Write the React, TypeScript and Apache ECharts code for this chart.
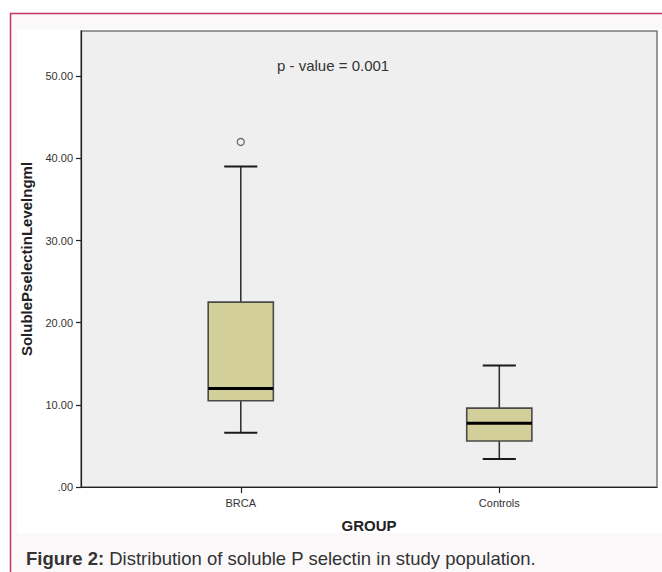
import React, { useEffect, useRef } from "react";
import * as echarts from "echarts";

const categories = ["BRCA", "Controls"];
const positions = [1, 2];
const whiskerLow = [6.6, 3.4];
const quartile1 = [10.5, 5.6];
const medians = [12.0, 7.75];
const quartile3 = [22.5, 9.6];
const whiskerHigh = [39.0, 14.8];
const outlierGroup = ["BRCA"];
const outlierValue = [42.0];
const yMin = 0;
const yMax = 55.5;
const yInterval = 10;

export default function App() {
  const ref = useRef<HTMLDivElement>(null);
  useEffect(() => {
    if (!ref.current) return;
    const chart = echarts.init(ref.current, null, { renderer: "svg" });
    const boxData = categories.map((_, i) => [
      positions[i],
      whiskerLow[i],
      quartile1[i],
      medians[i],
      quartile3[i],
      whiskerHigh[i],
    ]);
    const outlierData = outlierGroup.map((g, i) => [
      positions[categories.indexOf(g)],
      outlierValue[i],
    ]);
    const option: any = {
      animation: false,
      graphic: [
        {
          type: "rect",
          z: -10,
          shape: { x: 0, y: 0, width: 662, height: 572 },
          style: { fill: "#ffffff" },
          silent: true,
        },
        {
          type: "rect",
          z: -9,
          shape: { x: 10, y: 13, width: 652, height: 559 },
          style: { fill: "#fbf8f9" },
          silent: true,
        },
        {
          type: "line",
          z: -8,
          shape: { x1: 10, y1: 13.5, x2: 662, y2: 13.5 },
          style: { stroke: "#c2375e", lineWidth: 1.5 },
          silent: true,
        },
        {
          type: "line",
          z: -8,
          shape: { x1: 10.5, y1: 13, x2: 10.5, y2: 572 },
          style: { stroke: "#c2375e", lineWidth: 1.5 },
          silent: true,
        },
        {
          type: "rect",
          z: -7,
          shape: { x: 17, y: 29, width: 645, height: 504 },
          style: { fill: "#ffffff" },
          silent: true,
        },
        {
          type: "text",
          x: 277,
          y: 65,
          style: {
            text: "p - value = 0.001",
            font: "15px 'Liberation Sans', Arial, sans-serif",
            fill: "#333333",
            verticalAlign: "middle",
          },
        },
        {
          type: "text",
          x: 26,
          y: 558,
          style: {
            text: "{b|Figure 2:} Distribution of soluble P selectin in study population.",
            font: "18.5px 'Liberation Sans', Arial, sans-serif",
            fill: "#333333",
            verticalAlign: "middle",
            rich: {
              b: {
                fontWeight: "bold",
                fontSize: 18.5,
                fontFamily: "'Liberation Sans', Arial, sans-serif",
                fill: "#333333",
              },
            },
          },
        },
      ],
      grid: {
        left: 81,
        top: 31,
        right: 5,
        bottom: 85,
        show: true,
        backgroundColor: "#efefef",
        borderColor: "#7a7a7a",
        borderWidth: 1.5,
      },
      xAxis: {
        type: "value",
        min: 0.382,
        max: 2.61,
        name: "GROUP",
        nameLocation: "middle",
        nameGap: 31,
        nameTextStyle: {
          fontFamily: "'Liberation Sans', Arial, sans-serif",
          fontWeight: "bold",
          fontSize: 15,
          color: "#222222",
        },
        axisLine: { show: true, lineStyle: { color: "#222222", width: 1.2 } },
        axisTick: {
          show: true,
          length: 6,
          customValues: positions,
          lineStyle: { color: "#222222", width: 1.2 },
        },
        axisLabel: {
          customValues: positions,
          margin: 10,
          fontFamily: "'Liberation Sans', Arial, sans-serif",
          fontSize: 11,
          color: "#333333",
          formatter: (v: number) => categories[positions.indexOf(Math.round(v))] ?? "",
        },
        splitLine: { show: false },
      },
      yAxis: {
        type: "value",
        min: yMin,
        max: yMax,
        interval: yInterval,
        name: "SolublePselectinLevelngml",
        nameLocation: "middle",
        nameGap: 47,
        nameTextStyle: {
          fontFamily: "'Liberation Sans', Arial, sans-serif",
          fontWeight: "bold",
          fontSize: 15,
          color: "#222222",
        },
        axisLine: { show: true, lineStyle: { color: "#222222", width: 1.2 } },
        axisTick: { show: true, length: 5, lineStyle: { color: "#222222", width: 1.2 } },
        axisLabel: {
          margin: 8,
          fontFamily: "'Liberation Sans', Arial, sans-serif",
          fontSize: 11,
          color: "#333333",
          showMaxLabel: false,
          formatter: (v: number) => (v === 0 ? ".00" : v.toFixed(2)),
        },
        splitLine: { show: false },
      },
      series: [
        {
          type: "custom",
          data: boxData,
          encode: { x: 0, y: [1, 2, 3, 4, 5] },
          renderItem: (params: any, api: any) => {
            const x = api.value(0);
            const pLo = api.coord([x, api.value(1)]);
            const pQ1 = api.coord([x, api.value(2)]);
            const pMed = api.coord([x, api.value(3)]);
            const pQ3 = api.coord([x, api.value(4)]);
            const pHi = api.coord([x, api.value(5)]);
            const unit = api.size([1, 0])[0];
            const bw = unit * 0.252;
            const cw = unit * 0.128;
            const px = pMed[0];
            const whisk = { stroke: "#333333", lineWidth: 1.6 };
            return {
              type: "group",
              children: [
                { type: "line", shape: { x1: px, y1: pHi[1], x2: px, y2: pQ3[1] }, style: whisk },
                { type: "line", shape: { x1: px, y1: pQ1[1], x2: px, y2: pLo[1] }, style: whisk },
                { type: "line", shape: { x1: px - cw / 2, y1: pHi[1], x2: px + cw / 2, y2: pHi[1] }, style: { stroke: "#1a1a1a", lineWidth: 2 } },
                { type: "line", shape: { x1: px - cw / 2, y1: pLo[1], x2: px + cw / 2, y2: pLo[1] }, style: { stroke: "#1a1a1a", lineWidth: 2 } },
                {
                  type: "rect",
                  shape: { x: px - bw / 2, y: pQ3[1], width: bw, height: pQ1[1] - pQ3[1] },
                  style: { fill: "#d3cf9a", stroke: "#4a4a4a", lineWidth: 1.6 },
                },
                { type: "line", shape: { x1: px - bw / 2, y1: pMed[1], x2: px + bw / 2, y2: pMed[1] }, style: { stroke: "#000000", lineWidth: 3 } },
              ],
            };
          },
          z: 3,
        },
        {
          type: "scatter",
          data: outlierData,
          symbol: "circle",
          symbolSize: 7,
          itemStyle: { color: "#efefef", borderColor: "#444444", borderWidth: 1.2 },
          z: 4,
        },
      ],
    };
    chart.setOption(option);
    return () => chart.dispose();
  }, []);
  return (
    <div
      ref={ref}
      style={{ position: "absolute", left: 0, top: 0, width: 662, height: 572 }}
    />
  );
}
